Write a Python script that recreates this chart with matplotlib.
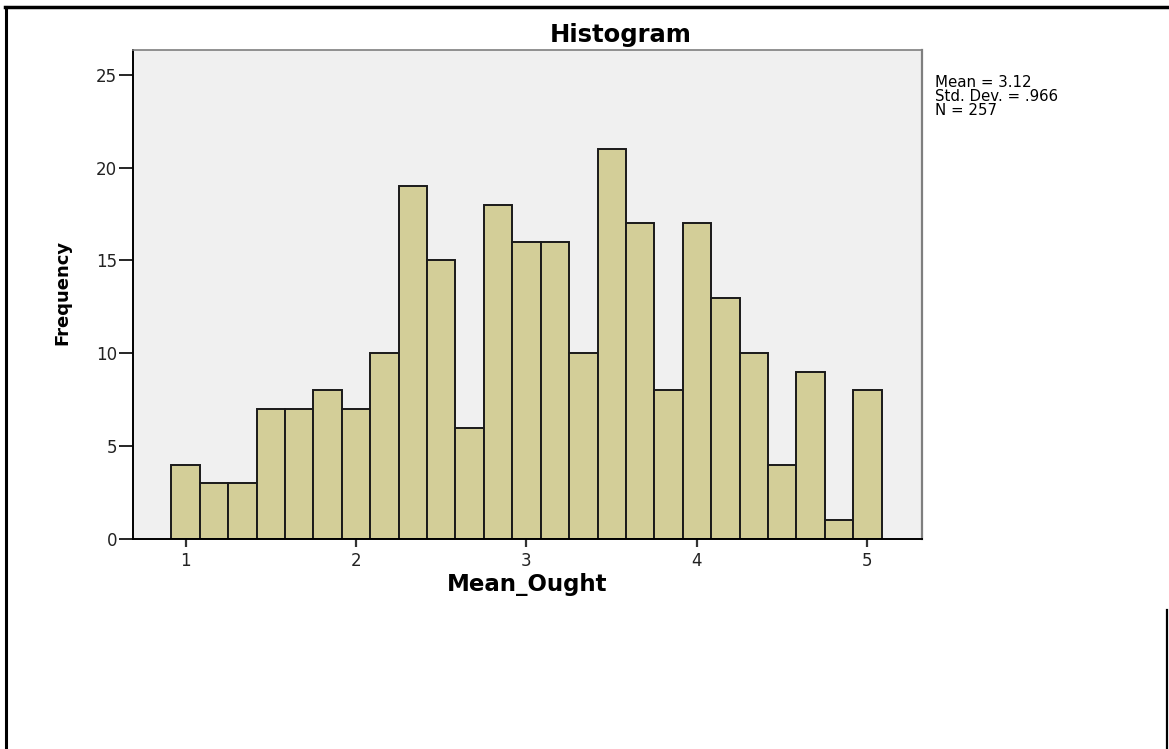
import matplotlib
matplotlib.use('Agg')
import matplotlib.pyplot as plt
import numpy as np
from matplotlib.lines import Line2D

# histogram counts, bins of width 1/6 centred on 1, 1.167, ..., 5
counts = [4, 3, 3, 7, 7, 8, 7, 10, 19, 15, 6, 18, 16, 16, 10, 21, 17, 8, 17, 13, 10, 4, 9, 1, 8]
bin_lo = 1.0
bin_w = 1.0 / 6
xticks = [1, 2, 3, 4, 5]
yticks = [0, 5, 10, 15, 20, 25]
stats = "Mean = 3.12\nStd. Dev. = .966\nN = 257"

W, H = 1169, 749
fig = plt.figure(figsize=(W / 100, H / 100), dpi=100)
fig.patch.set_facecolor('white')

ax = fig.add_axes([133 / W, (H - 539) / H, (921.7 - 133) / W, (539 - 50) / H])
ax.set_facecolor('#f0f0f0')

centers = bin_lo + bin_w * np.arange(len(counts))
ax.bar(centers, counts, width=bin_w, color='#d3ce98', edgecolor='#1a1a1a',
       linewidth=1.4, zorder=2)

ax.set_xlim(0.691, 5.319)
ax.set_ylim(0, 26.33)
ax.set_xticks(xticks)
ax.set_yticks(yticks)

ax.spines['left'].set_color('black')
ax.spines['bottom'].set_color('black')
ax.spines['left'].set_linewidth(1.4)
ax.spines['bottom'].set_linewidth(1.4)
ax.spines['top'].set_color('#7f7f7f')
ax.spines['right'].set_color('#7f7f7f')
ax.spines['top'].set_linewidth(1.2)
ax.spines['right'].set_linewidth(1.6)

ax.tick_params(axis='y', direction='out', length=10, width=1.2, pad=1.5,
               labelsize=12, colors='black', labelcolor='#222222')
ax.tick_params(axis='x', direction='out', length=6, width=1.6, pad=3,
               labelsize=12, colors='#333333', labelcolor='#222222')

fig.text(621 / W, 1 - 35 / H, 'Histogram', ha='center', va='center',
         fontsize=17.5, fontweight='bold', family='DejaVu Sans')
fig.text(527 / W, 1 - 584 / H, 'Mean_Ought', ha='center', va='center',
         fontsize=16.5, fontweight='bold', family='DejaVu Sans')
fig.text(62 / W, 1 - 292 / H, 'Frequency', ha='center', va='center',
         rotation=90, fontsize=13, fontweight='bold', family='DejaVu Sans')
fig.text(935 / W, 1 - 75 / H, stats, ha='left', va='top', fontsize=10.8,
         linespacing=0.9, family='DejaVu Sans')

# outer frame lines of the screenshot
fig.add_artist(Line2D([5 / W, 1], [1 - 6.5 / H, 1 - 6.5 / H], color='black', lw=2.5))
fig.add_artist(Line2D([5.5 / W, 5.5 / W], [0, 1 - 6.5 / H], color='black', lw=2.2))
fig.add_artist(Line2D([1167 / W, 1167 / W], [0, 1 - 610 / H], color='black', lw=1.6))

fig.savefig('out.png', dpi=100)
